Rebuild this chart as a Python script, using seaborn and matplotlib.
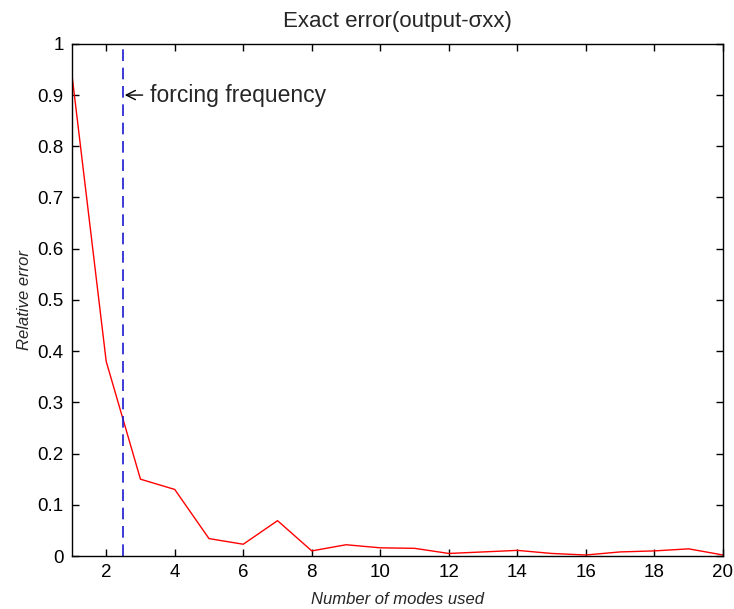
import matplotlib
matplotlib.use("Agg")
import matplotlib.pyplot as plt
import seaborn as sns
import pandas as pd

# Relative error against the number of modes kept in the expansion
modes = list(range(1, 21))
rel_error = [0.94, 0.38, 0.15, 0.13, 0.034, 0.023, 0.069, 0.010, 0.022, 0.016,
             0.015, 0.005, 0.008, 0.011, 0.005, 0.002, 0.008, 0.010, 0.014, 0.002]
forcing_mode = 2.5
x_ticks = list(range(2, 21, 2))
y_ticks = [0, 0.1, 0.2, 0.3, 0.4, 0.5, 0.6, 0.7, 0.8, 0.9, 1]
y_tick_labels = ["0", "0.1", "0.2", "0.3", "0.4", "0.5", "0.6", "0.7", "0.8", "0.9", "1"]

df = pd.DataFrame({"modes": modes, "error": rel_error})

sns.set_style("white")
plt.rcParams["font.family"] = ["Liberation Sans", "DejaVu Sans"]

fig = plt.figure(figsize=(7.34, 6.09), dpi=100)
ax = fig.add_axes([0.098, 0.087, 0.887, 0.841])

sns.lineplot(data=df, x="modes", y="error", color="#ff0000", linewidth=1.0, ax=ax)
ax.axvline(forcing_mode, color="#1a1ad0", linestyle=(0, (7, 4)), linewidth=1.2)
ax.annotate("forcing frequency", xy=(forcing_mode, 0.9), xytext=(forcing_mode + 0.78, 0.9),
            fontsize=16.5, va="center", ha="left",
            arrowprops=dict(arrowstyle="->", color="black", lw=1.0,
                            shrinkA=3, shrinkB=1))

ax.set_xlim(1, 20)
ax.set_ylim(0, 1)
ax.set_xticks(x_ticks)
ax.set_yticks(y_ticks)
ax.set_yticklabels(y_tick_labels)
ax.tick_params(direction="in", length=5, width=1, labelsize=13.5,
               top=True, right=True, bottom=True, left=True, pad=6, colors="black")
ax.tick_params(axis="x", labeltop=False)
ax.tick_params(axis="y", labelright=False)
for s in ax.spines.values():
    s.set_visible(True)
    s.set_color("black")
    s.set_linewidth(1.0)

ax.set_title("Exact error(output-σxx)", fontsize=16, pad=12)
ax.set_xlabel("Number of modes used", fontsize=12, style="italic", labelpad=8)
ax.set_ylabel("Relative error", fontsize=12, style="italic", labelpad=4)

fig.savefig("out.png", dpi=100, facecolor="white")
